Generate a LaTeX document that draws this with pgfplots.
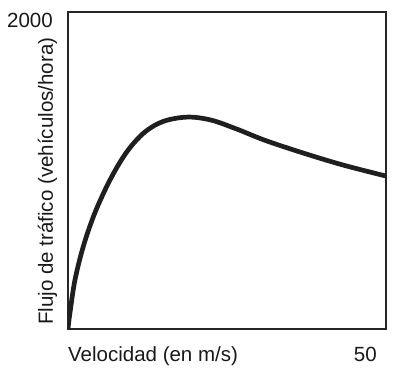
\documentclass[border=0pt]{standalone}
\usepackage{fontspec}
\setmainfont{Liberation Sans}
\usepackage{pgfplots}
\pgfplotsset{compat=1.18}
\begin{document}
\begin{tikzpicture}
\useasboundingbox (-68pt,-45pt) rectangle (332pt,329pt);
\begin{axis}[
  scale only axis,
  width=318pt, height=317pt,
  xmin=0, xmax=50, ymin=0, ymax=2000,
  xtick={50}, ytick={2000},
  major tick length=0pt,
  axis line style={black!85, line width=1.3pt},
  /pgf/number format/assume math mode=true,
  /pgf/number format/1000 sep={},
  tick label style={font=\fontsize{20.5}{24}\selectfont, inner sep=0pt, text=black!90},
  yticklabel style={anchor=base east, xshift=-15pt, yshift=-16pt},
  xticklabel style={anchor=base east, xshift=-9pt, yshift=-33pt},
  xlabel={Velocidad (en m/s)},
  ylabel={Flujo de tráfico (vehículos/hora)},
  label style={font=\fontsize{20.5}{24}\selectfont, inner sep=0pt, text=black!90},
  xlabel style={at={([yshift=-33pt]axis description cs:0,0)}, anchor=base west},
  ylabel style={at={([xshift=-15pt,yshift=4pt]axis description cs:0,0)}, anchor=base west, rotate=0},
]
\addplot[black!88, line width=4.7pt, smooth, tension=0.55] coordinates {
(0,0) (0.3,100) (1.1,310) (2.4,520) (4.2,730) (6.6,940) (9.2,1115)
(12,1240) (15,1310) (18.8,1337) (22.5,1318) (26.5,1262) (31,1190)
(37,1110) (43.2,1035) (50,965)
};
\end{axis}
\end{tikzpicture}
\end{document}
